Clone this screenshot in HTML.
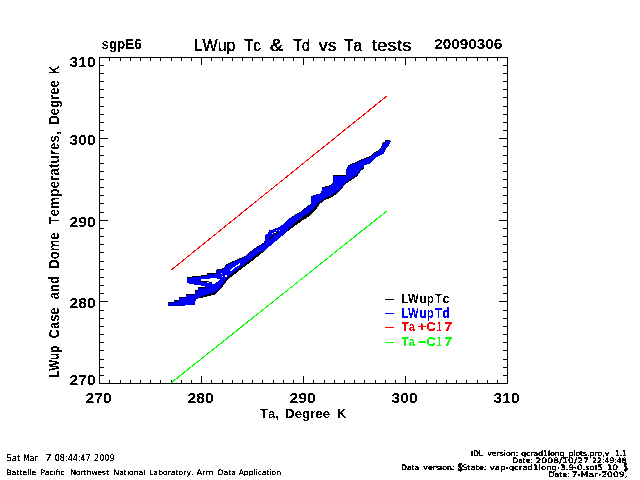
<!DOCTYPE html>
<html><head><meta charset="utf-8"><title>LWup Tc &amp; Td vs Ta tests</title>
<style>html,body{margin:0;padding:0;background:#fff;width:640px;height:480px;overflow:hidden}svg{display:block}</style>
</head><body><svg width="640" height="480" viewBox="0 0 640 480" font-family="'Liberation Sans', sans-serif" style="font-kerning:none"><defs><filter id="th" x="0" y="0" width="640" height="480" filterUnits="userSpaceOnUse"><feComponentTransfer><feFuncA type="discrete" tableValues="0 1"/></feComponentTransfer></filter><filter id="th2" x="0" y="0" width="640" height="480" filterUnits="userSpaceOnUse"><feComponentTransfer><feFuncA type="discrete" tableValues="0 1 1"/></feComponentTransfer></filter><filter id="th3" x="0" y="0" width="640" height="480" filterUnits="userSpaceOnUse"><feComponentTransfer><feFuncA type="discrete" tableValues="0 1 1 1"/></feComponentTransfer></filter></defs><rect width="640" height="480" fill="#fff"/><g fill="#000" shape-rendering="crispEdges"><rect x="99" y="57" width="409" height="1"/><rect x="99" y="383" width="409" height="1"/><rect x="99" y="57" width="1" height="327"/><rect x="507" y="57" width="1" height="327"/><rect x="109" y="58" width="1" height="3"/><rect x="109" y="380" width="1" height="3"/><rect x="120" y="58" width="1" height="3"/><rect x="120" y="380" width="1" height="3"/><rect x="130" y="58" width="1" height="3"/><rect x="130" y="380" width="1" height="3"/><rect x="140" y="58" width="1" height="3"/><rect x="140" y="380" width="1" height="3"/><rect x="150" y="58" width="1" height="3"/><rect x="150" y="380" width="1" height="3"/><rect x="160" y="58" width="1" height="3"/><rect x="160" y="380" width="1" height="3"/><rect x="171" y="58" width="1" height="3"/><rect x="171" y="380" width="1" height="3"/><rect x="181" y="58" width="1" height="3"/><rect x="181" y="380" width="1" height="3"/><rect x="191" y="58" width="1" height="3"/><rect x="191" y="380" width="1" height="3"/><rect x="201" y="58" width="1" height="7"/><rect x="201" y="376" width="1" height="7"/><rect x="211" y="58" width="1" height="3"/><rect x="211" y="380" width="1" height="3"/><rect x="222" y="58" width="1" height="3"/><rect x="222" y="380" width="1" height="3"/><rect x="232" y="58" width="1" height="3"/><rect x="232" y="380" width="1" height="3"/><rect x="242" y="58" width="1" height="3"/><rect x="242" y="380" width="1" height="3"/><rect x="252" y="58" width="1" height="3"/><rect x="252" y="380" width="1" height="3"/><rect x="262" y="58" width="1" height="3"/><rect x="262" y="380" width="1" height="3"/><rect x="273" y="58" width="1" height="3"/><rect x="273" y="380" width="1" height="3"/><rect x="283" y="58" width="1" height="3"/><rect x="283" y="380" width="1" height="3"/><rect x="293" y="58" width="1" height="3"/><rect x="293" y="380" width="1" height="3"/><rect x="303" y="58" width="1" height="7"/><rect x="303" y="376" width="1" height="7"/><rect x="313" y="58" width="1" height="3"/><rect x="313" y="380" width="1" height="3"/><rect x="324" y="58" width="1" height="3"/><rect x="324" y="380" width="1" height="3"/><rect x="334" y="58" width="1" height="3"/><rect x="334" y="380" width="1" height="3"/><rect x="344" y="58" width="1" height="3"/><rect x="344" y="380" width="1" height="3"/><rect x="354" y="58" width="1" height="3"/><rect x="354" y="380" width="1" height="3"/><rect x="364" y="58" width="1" height="3"/><rect x="364" y="380" width="1" height="3"/><rect x="375" y="58" width="1" height="3"/><rect x="375" y="380" width="1" height="3"/><rect x="385" y="58" width="1" height="3"/><rect x="385" y="380" width="1" height="3"/><rect x="395" y="58" width="1" height="3"/><rect x="395" y="380" width="1" height="3"/><rect x="405" y="58" width="1" height="7"/><rect x="405" y="376" width="1" height="7"/><rect x="415" y="58" width="1" height="3"/><rect x="415" y="380" width="1" height="3"/><rect x="426" y="58" width="1" height="3"/><rect x="426" y="380" width="1" height="3"/><rect x="436" y="58" width="1" height="3"/><rect x="436" y="380" width="1" height="3"/><rect x="446" y="58" width="1" height="3"/><rect x="446" y="380" width="1" height="3"/><rect x="456" y="58" width="1" height="3"/><rect x="456" y="380" width="1" height="3"/><rect x="466" y="58" width="1" height="3"/><rect x="466" y="380" width="1" height="3"/><rect x="477" y="58" width="1" height="3"/><rect x="477" y="380" width="1" height="3"/><rect x="487" y="58" width="1" height="3"/><rect x="487" y="380" width="1" height="3"/><rect x="497" y="58" width="1" height="3"/><rect x="497" y="380" width="1" height="3"/><rect x="100" y="375" width="4" height="1"/><rect x="503" y="375" width="4" height="1"/><rect x="100" y="367" width="4" height="1"/><rect x="503" y="367" width="4" height="1"/><rect x="100" y="359" width="4" height="1"/><rect x="503" y="359" width="4" height="1"/><rect x="100" y="350" width="4" height="1"/><rect x="503" y="350" width="4" height="1"/><rect x="100" y="342" width="4" height="1"/><rect x="503" y="342" width="4" height="1"/><rect x="100" y="334" width="4" height="1"/><rect x="503" y="334" width="4" height="1"/><rect x="100" y="326" width="4" height="1"/><rect x="503" y="326" width="4" height="1"/><rect x="100" y="318" width="4" height="1"/><rect x="503" y="318" width="4" height="1"/><rect x="100" y="310" width="4" height="1"/><rect x="503" y="310" width="4" height="1"/><rect x="100" y="301" width="8" height="1"/><rect x="499" y="301" width="8" height="1"/><rect x="100" y="293" width="4" height="1"/><rect x="503" y="293" width="4" height="1"/><rect x="100" y="285" width="4" height="1"/><rect x="503" y="285" width="4" height="1"/><rect x="100" y="277" width="4" height="1"/><rect x="503" y="277" width="4" height="1"/><rect x="100" y="269" width="4" height="1"/><rect x="503" y="269" width="4" height="1"/><rect x="100" y="261" width="4" height="1"/><rect x="503" y="261" width="4" height="1"/><rect x="100" y="252" width="4" height="1"/><rect x="503" y="252" width="4" height="1"/><rect x="100" y="244" width="4" height="1"/><rect x="503" y="244" width="4" height="1"/><rect x="100" y="236" width="4" height="1"/><rect x="503" y="236" width="4" height="1"/><rect x="100" y="228" width="4" height="1"/><rect x="503" y="228" width="4" height="1"/><rect x="100" y="220" width="8" height="1"/><rect x="499" y="220" width="8" height="1"/><rect x="100" y="212" width="4" height="1"/><rect x="503" y="212" width="4" height="1"/><rect x="100" y="203" width="4" height="1"/><rect x="503" y="203" width="4" height="1"/><rect x="100" y="195" width="4" height="1"/><rect x="503" y="195" width="4" height="1"/><rect x="100" y="187" width="4" height="1"/><rect x="503" y="187" width="4" height="1"/><rect x="100" y="179" width="4" height="1"/><rect x="503" y="179" width="4" height="1"/><rect x="100" y="171" width="4" height="1"/><rect x="503" y="171" width="4" height="1"/><rect x="100" y="163" width="4" height="1"/><rect x="503" y="163" width="4" height="1"/><rect x="100" y="155" width="4" height="1"/><rect x="503" y="155" width="4" height="1"/><rect x="100" y="146" width="4" height="1"/><rect x="503" y="146" width="4" height="1"/><rect x="100" y="138" width="8" height="1"/><rect x="499" y="138" width="8" height="1"/><rect x="100" y="130" width="4" height="1"/><rect x="503" y="130" width="4" height="1"/><rect x="100" y="122" width="4" height="1"/><rect x="503" y="122" width="4" height="1"/><rect x="100" y="114" width="4" height="1"/><rect x="503" y="114" width="4" height="1"/><rect x="100" y="106" width="4" height="1"/><rect x="503" y="106" width="4" height="1"/><rect x="100" y="97" width="4" height="1"/><rect x="503" y="97" width="4" height="1"/><rect x="100" y="89" width="4" height="1"/><rect x="503" y="89" width="4" height="1"/><rect x="100" y="81" width="4" height="1"/><rect x="503" y="81" width="4" height="1"/><rect x="100" y="73" width="4" height="1"/><rect x="503" y="73" width="4" height="1"/><rect x="100" y="65" width="4" height="1"/><rect x="503" y="65" width="4" height="1"/></g><g filter="url(#th)"><polyline points="170.5,270.5 387.5,95.5" fill="none" stroke="#ff0000" stroke-width="1.05"/><polyline points="171,383 387.5,210.5" fill="none" stroke="#00ff00" stroke-width="1.05"/><polygon points="187,277 192,277 193,276 200,276 201,275.2 207,275.2 207.25,273.3 216.6,273.3 216.6,269.5 224,268 225,265.5 228,263.4 233,261.3 238,259 242,257.5 246,255.3 249,252.5 253,249.5 259,245.2 263,243.2 265,240.7 265.5,235 268,234 269,230.7 272,230.1 276,228.6 280,226.4 284,224 289,219 296,213.75 300,212 305,208 309,205 311,203.75 311.5,196 315,195 318,194 321.5,193 322,187 328,186 331,184.4 333,183 333.5,175 346,175 346.5,169.4 348,165.5 357,161.4 360,160 365,158 370,156.2 373,153.7 374.4,152 377.5,151.2 379.4,148.8 381,148.1 381.3,146.2 382,145 382.5,143.1 383.7,141.9 385,141.5 385,140 390,140 390.5,141.5 389.5,143.8 388.1,146.2 386.2,147.5 385.6,148.8 385,150.6 384.4,151.9 383.8,153.8 380.6,155 377.5,156.2 375.6,158.1 370,163.5 364,165 363.5,169.5 361,170.5 358,175 356,177 352,179.5 350,181 345,184.4 343,187 340,190.6 335,195 330,198 325,200 320,203.75 318,206.25 316,209.4 312,213.75 308,217 303,220 300,222.5 296,225 290,229.5 285,233.25 280,237.6 275,241.4 270,245.75 265,250.5 260,254.7 255,258.5 250,262.5 245,266.25 240,270 237,272.5 232,276.25 228,279.4 224,284.8 220,290 215,294.4 205,297 195.5,299 195,304.7 189,304.7 188,305.2 185,305.2 185,305.8 168,305.8 168,302 174,302 174,300 179,300 179,296.7 186,296.7 186,294 195,294 195,290.6 198,290.6 198,287.3 205,287.3 207,286 200,285 195,284.5 190,283.5 187,283" fill="#000"/><polygon points="187,278 192,278 193,277 200,277 201,276.2 207,276.2 207.25,274.3 216.6,274.3 216.6,270.5 224,269 225,266.5 228,264.4 233,262.3 238,260 242,258.5 246,256.3 249,253.5 253,250.5 259,246.2 263,244.2 265,241.7 265.5,235 268,234 269,230.7 272,230.1 276,228.6 280,226.4 284,224 289,219 296,214.75 300,213 305,209 309,206 311,204.75 311.5,197 315,195 318,194 321.5,194 322,188 328,187 331,185.4 333,184 333.5,176 346,176 346.5,170.4 348,166.5 357,162.4 360,161 365,159 370,157.2 373,154.7 374.4,153 377.5,152.2 379.4,149.8 381,149.7 381.3,147.8 382,146.6 382.5,144.7 383.7,143.5 385,142.5 385,141 390,141 390.5,141.5 389.5,143.8 388.1,146.2 386.2,147.5 385.6,148.8 385,150.6 384.4,151.9 383.8,153.8 380.6,155 377.5,156.2 375.6,158.1 370,163.5 364,165 363.5,167.9 361,168.9 358,173.4 356,175.4 352,177.9 350,179.4 345,183.2 343,185.8 340,189.4 335,193 330,196 325,198 320,201.75 318,202.75 316,205.9 312,210.25 308,213.5 303,216.5 300,219 296,221.5 290,227.5 285,233.25 280,237.6 275,241.4 270,245.75 265,250.5 260,252.1 255,255.9 250,259.9 245,263.65 240,267.4 237,269.9 232,273.65 228,276.8 224,282.2 220,288 215,292.4 205,295 195.5,299 195,304.7 189,304.7 188,305.2 185,305.2 185,305.8 168,305.8 168,303 174,303 174,301 179,301 179,297.7 186,297.7 186,295 195,295 195,291.6 198,291.6 198,288.3 205,288.3 207,287 200,285 195,284.5 190,283.5 187,283" fill="#0000ff"/><g shape-rendering="crispEdges"><polygon points="200.7,278.5 210,278.5 215,278.2 220,279 217,282 214,284.2 211,283 207,282.5 204,281.8 200.7,281.3" fill="#fff"/><polyline points="200,281 207,281.5 212,283" fill="none" stroke="#000" stroke-width="1"/><polyline points="230.5,270.5 235,267 240.5,263.5" fill="none" stroke="#fff" stroke-width="1.3"/><polyline points="269,239.5 278,231.5" fill="none" stroke="#000" stroke-width="1.3"/><rect x="221" y="273" width="1" height="1" fill="#fff"/><rect x="222" y="276" width="1" height="1" fill="#fff"/><rect x="225" y="275" width="2" height="2" fill="#fff"/><rect x="272" y="233" width="1" height="1" fill="#fff"/><rect x="274" y="232" width="2" height="1" fill="#fff"/><rect x="276" y="230" width="1" height="1" fill="#fff"/><rect x="279" y="230" width="1" height="1" fill="#fff"/></g></g><g filter="url(#th)"><text x="69.64" y="67" font-size="14.33" textLength="26" lengthAdjust="spacingAndGlyphs" font-weight="bold">310</text><text x="69.64" y="145" font-size="14.33" textLength="26" lengthAdjust="spacingAndGlyphs" font-weight="bold">300</text><text x="69.46" y="227" font-size="14.33" textLength="26.19" lengthAdjust="spacingAndGlyphs" font-weight="bold">290</text><text x="69.46" y="308" font-size="14.33" textLength="26.19" lengthAdjust="spacingAndGlyphs" font-weight="bold">280</text><text x="69.46" y="385" font-size="14.33" textLength="26.19" lengthAdjust="spacingAndGlyphs" font-weight="bold">270</text><text x="85.46" y="403" font-size="14.33" textLength="26.19" lengthAdjust="spacingAndGlyphs" font-weight="bold">270</text><text x="187.46" y="403" font-size="14.33" textLength="26.19" lengthAdjust="spacingAndGlyphs" font-weight="bold">280</text><text x="289.46" y="403" font-size="14.33" textLength="26.19" lengthAdjust="spacingAndGlyphs" font-weight="bold">290</text><text x="391.64" y="403" font-size="14.33" textLength="26" lengthAdjust="spacingAndGlyphs" font-weight="bold">300</text><text x="493.64" y="403" font-size="14.33" textLength="26" lengthAdjust="spacingAndGlyphs" font-weight="bold">310</text><text x="101.43" y="49" font-size="14.54" textLength="40.36" lengthAdjust="spacingAndGlyphs" font-weight="bold">sgpE6</text><text x="434.22" y="49" font-size="14.33" textLength="68.13" lengthAdjust="spacingAndGlyphs" font-weight="bold">20090306</text><text x="193.69" y="51" font-size="16.79" textLength="41.78" lengthAdjust="spacingAndGlyphs" stroke="#000" stroke-width="0.35">LWup</text><text x="244.06" y="51" font-size="16.79" textLength="16.94" lengthAdjust="spacingAndGlyphs" stroke="#000" stroke-width="0.35">Tc</text><text x="269.89" y="51" font-size="16.79" textLength="13.53" lengthAdjust="spacingAndGlyphs" stroke="#000" stroke-width="0.35">&amp;</text><text x="293.18" y="51" font-size="16.79" textLength="16.75" lengthAdjust="spacingAndGlyphs" stroke="#000" stroke-width="0.35">Td</text><text x="318.84" y="51" font-size="16.79" textLength="17.91" lengthAdjust="spacingAndGlyphs" stroke="#000" stroke-width="0.35">vs</text><text x="344.36" y="51" font-size="16.79" textLength="17.54" lengthAdjust="spacingAndGlyphs" stroke="#000" stroke-width="0.35">Ta</text><text x="371.71" y="51" font-size="16.79" textLength="39.97" lengthAdjust="spacingAndGlyphs" stroke="#000" stroke-width="0.35">tests</text><text x="259.85" y="418" font-size="13.08" textLength="19.24" lengthAdjust="spacingAndGlyphs" font-weight="bold">Ta,</text><text x="285.11" y="418" font-size="13.08" textLength="45.04" lengthAdjust="spacingAndGlyphs" font-weight="bold">Degree</text><text x="337.17" y="418" font-size="13.08" textLength="8.94" lengthAdjust="spacingAndGlyphs" font-weight="bold">K</text><g transform="translate(59,0) rotate(-90)"><text x="-377.87" y="0" font-size="15.26" textLength="32.1" lengthAdjust="spacingAndGlyphs" font-weight="bold">LWup</text><text x="-338.43" y="0" font-size="15.26" textLength="30.97" lengthAdjust="spacingAndGlyphs" font-weight="bold">Case</text><text x="-299.13" y="0" font-size="15.26" textLength="22.98" lengthAdjust="spacingAndGlyphs" font-weight="bold">and</text><text x="-268.77" y="0" font-size="15.26" textLength="36.32" lengthAdjust="spacingAndGlyphs" font-weight="bold">Dome</text><text x="-224.75" y="0" font-size="15.26" textLength="93.66" lengthAdjust="spacingAndGlyphs" font-weight="bold">Temperatures,</text><text x="-124.62" y="0" font-size="15.26" textLength="44.27" lengthAdjust="spacingAndGlyphs" font-weight="bold">Degree</text><text x="-73.64" y="0" font-size="15.26" textLength="7.94" lengthAdjust="spacingAndGlyphs" font-weight="bold">K</text></g><rect x="385" y="299" width="9" height="1" fill="#000000" shape-rendering="crispEdges"/><text x="401.15" y="303" font-size="13.08" textLength="17.46" lengthAdjust="spacingAndGlyphs" font-weight="bold" fill="#000000">LW</text><text x="419.58" y="303" font-size="13.08" textLength="14.2" lengthAdjust="spacingAndGlyphs" font-weight="bold" fill="#000000">up</text><text x="434.86" y="303" font-size="13.08" textLength="14.5" lengthAdjust="spacingAndGlyphs" font-weight="bold" fill="#000000">Tc</text><rect x="385" y="313" width="9" height="1" fill="#0000ff" shape-rendering="crispEdges"/><text x="401.15" y="317.5" font-size="13.81" textLength="17.46" lengthAdjust="spacingAndGlyphs" font-weight="bold" fill="#0000ff">LW</text><text x="419.58" y="317.5" font-size="13.81" textLength="14.2" lengthAdjust="spacingAndGlyphs" font-weight="bold" fill="#0000ff">up</text><text x="434.86" y="317.5" font-size="13.81" textLength="14.94" lengthAdjust="spacingAndGlyphs" font-weight="bold" fill="#0000ff">Td</text><rect x="385" y="327" width="9" height="1" fill="#ff0000" shape-rendering="crispEdges"/><text x="401.77" y="331" font-size="13.08" textLength="13.36" lengthAdjust="spacingAndGlyphs" font-weight="bold" fill="#ff0000">Ta</text><text x="417.03" y="331" font-size="13.08" textLength="9.32" lengthAdjust="spacingAndGlyphs" font-weight="bold" fill="#ff0000">+</text><text x="426.47" y="331" font-size="13.08" textLength="9.28" lengthAdjust="spacingAndGlyphs" font-weight="bold" fill="#ff0000">C</text><text x="437.1" y="331" font-size="13.08" textLength="4.42" lengthAdjust="spacingAndGlyphs" font-weight="bold" fill="#ff0000">1</text><text x="444.04" y="331" font-size="13.08" textLength="8.53" lengthAdjust="spacingAndGlyphs" font-weight="bold" fill="#ff0000">7</text><rect x="385" y="342" width="9" height="1" fill="#00ff00" shape-rendering="crispEdges"/><text x="401.77" y="346" font-size="13.08" textLength="13.36" lengthAdjust="spacingAndGlyphs" font-weight="bold" fill="#00ff00">Ta</text><text x="416.93" y="346" font-size="13.08" textLength="9.97" lengthAdjust="spacingAndGlyphs" font-weight="bold" fill="#00ff00">-</text><text x="426.47" y="346" font-size="13.08" textLength="9.28" lengthAdjust="spacingAndGlyphs" font-weight="bold" fill="#00ff00">C</text><text x="437.1" y="346" font-size="13.08" textLength="4.42" lengthAdjust="spacingAndGlyphs" font-weight="bold" fill="#00ff00">1</text><text x="444.04" y="346" font-size="13.08" textLength="8.53" lengthAdjust="spacingAndGlyphs" font-weight="bold" fill="#00ff00">7</text></g><g filter="url(#th2)"><text x="6.33" y="461" font-size="8.78" textLength="14.18" lengthAdjust="spacingAndGlyphs" font-family="'DejaVu Sans', sans-serif">Sat</text><text x="23.26" y="461" font-size="8.78" textLength="14.24" lengthAdjust="spacingAndGlyphs" font-family="'DejaVu Sans', sans-serif">Mar</text><text x="45.12" y="461" font-size="8.78" textLength="6.79" lengthAdjust="spacingAndGlyphs" font-family="'DejaVu Sans', sans-serif">7</text><text x="54.77" y="461" font-size="8.78" textLength="35.91" lengthAdjust="spacingAndGlyphs" font-family="'DejaVu Sans', sans-serif">08:44:47</text><text x="94.11" y="461" font-size="8.78" textLength="20.45" lengthAdjust="spacingAndGlyphs" font-family="'DejaVu Sans', sans-serif">2009</text><text x="6.24" y="475" font-size="7.41" textLength="30.08" lengthAdjust="spacingAndGlyphs" font-family="'DejaVu Sans', sans-serif">Battelle</text><text x="40.16" y="475" font-size="7.41" textLength="24.31" lengthAdjust="spacingAndGlyphs" font-family="'DejaVu Sans', sans-serif">Pacific</text><text x="70.52" y="475" font-size="7.41" textLength="38.41" lengthAdjust="spacingAndGlyphs" font-family="'DejaVu Sans', sans-serif">Northwest</text><text x="113.45" y="475" font-size="7.41" textLength="31.97" lengthAdjust="spacingAndGlyphs" font-family="'DejaVu Sans', sans-serif">National</text><text x="148.94" y="475" font-size="7.41" textLength="44.51" lengthAdjust="spacingAndGlyphs" font-family="'DejaVu Sans', sans-serif">Laboratory,</text><text x="196.54" y="475" font-size="7.41" textLength="17.17" lengthAdjust="spacingAndGlyphs" font-family="'DejaVu Sans', sans-serif">Arm</text><text x="217.65" y="475" font-size="7.41" textLength="18.35" lengthAdjust="spacingAndGlyphs" font-family="'DejaVu Sans', sans-serif">Data</text><text x="238.69" y="475" font-size="7.41" textLength="42.35" lengthAdjust="spacingAndGlyphs" font-family="'DejaVu Sans', sans-serif">Application</text></g><g filter="url(#th3)"><text x="471.04" y="456" font-size="7.61" textLength="11.75" lengthAdjust="spacingAndGlyphs" font-family="'DejaVu Sans', sans-serif">IDL</text><text x="487.17" y="456" font-size="7.61" textLength="31.14" lengthAdjust="spacingAndGlyphs" font-family="'DejaVu Sans', sans-serif">version:</text><text x="521.33" y="456" font-size="7.61" textLength="87.9" lengthAdjust="spacingAndGlyphs" font-family="'DejaVu Sans', sans-serif">qcrad1long_plots.pro,v</text><text x="615.2" y="456" font-size="7.61" textLength="11.57" lengthAdjust="spacingAndGlyphs" font-family="'DejaVu Sans', sans-serif">1.1</text><text x="512.47" y="463" font-size="7.41" textLength="20.3" lengthAdjust="spacingAndGlyphs" font-family="'DejaVu Sans', sans-serif">Date:</text><text x="535.42" y="463" font-size="7.41" textLength="53.58" lengthAdjust="spacingAndGlyphs" font-family="'DejaVu Sans', sans-serif">2008/10/27</text><text x="592.24" y="463" font-size="7.41" textLength="34.38" lengthAdjust="spacingAndGlyphs" font-family="'DejaVu Sans', sans-serif">22:49:48</text><text x="401" y="470" font-size="7.41" textLength="18.3" lengthAdjust="spacingAndGlyphs" font-family="'DejaVu Sans', sans-serif">Data</text><text x="423.37" y="470" font-size="7.41" textLength="31.14" lengthAdjust="spacingAndGlyphs" font-family="'DejaVu Sans', sans-serif">version:</text><text x="458" y="470.5" font-size="10.17" textLength="4.1" lengthAdjust="spacingAndGlyphs" font-weight="bold">$</text><text x="461.96" y="470" font-size="7.41" textLength="24.61" lengthAdjust="spacingAndGlyphs" font-family="'DejaVu Sans', sans-serif">State:</text><text x="489.74" y="470" font-size="7.41" textLength="128.23" lengthAdjust="spacingAndGlyphs" font-family="'DejaVu Sans', sans-serif">vap-qcrad1long-3.9-0.sol5_10</text><text x="623.41" y="470.5" font-size="10.17" textLength="4" lengthAdjust="spacingAndGlyphs" font-weight="bold">$</text><text x="548.22" y="477" font-size="7.41" textLength="21.6" lengthAdjust="spacingAndGlyphs" font-family="'DejaVu Sans', sans-serif">Date:</text><text x="571.45" y="477" font-size="7.41" textLength="56.15" lengthAdjust="spacingAndGlyphs" font-family="'DejaVu Sans', sans-serif">7-Mar-2009,</text></g></svg></body></html>
